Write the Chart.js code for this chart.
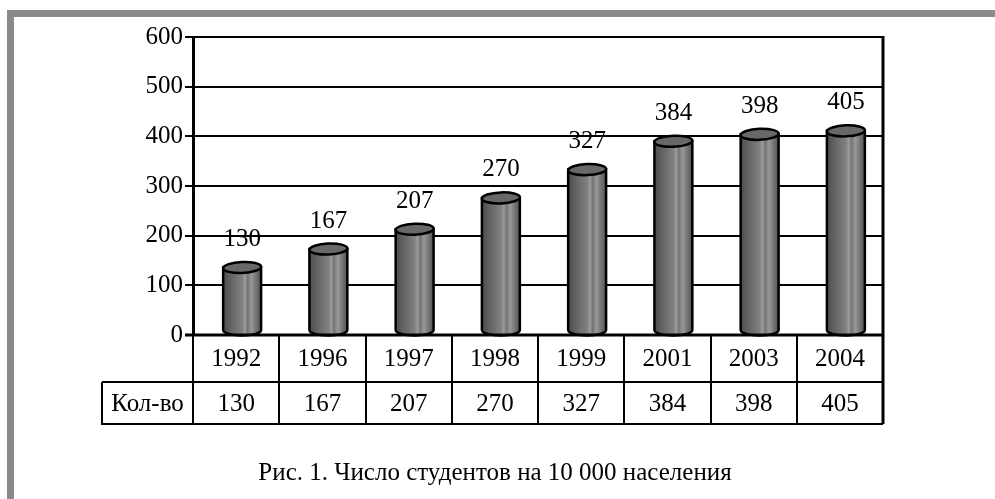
<!DOCTYPE html>
<html>
<head>
<meta charset="utf-8">
<script src="https://cdn.jsdelivr.net/npm/chart.js@4/dist/chart.umd.min.js"></script>
<style>
  html, body { margin: 0; padding: 0; background: #fff; }
  #wrap { position: relative; width: 995px; height: 499px; overflow: hidden; }
  #frameTop { position: absolute; left: 7px; right: 0; top: 10px; height: 7px; background: #8a8a8a; }
  #frameLeft { position: absolute; left: 7px; width: 7px; top: 10px; bottom: 0; background: #8a8a8a; }
  canvas { position: absolute; left: 0; top: 0; }
</style>
</head>
<body>
<div id="wrap">
  <div id="frameTop"></div>
  <div id="frameLeft"></div>
  <canvas id="chart" width="995" height="499"></canvas>
</div>
<script>
const years = ["1992", "1996", "1997", "1998", "1999", "2001", "2003", "2004"];
const students = [130, 167, 207, 270, 327, 384, 398, 405];
const rowLabel = "Кол-во";
const caption = "Рис. 1. Число студентов на 10 000 населения";

const FONT = "'Liberation Serif', 'Times New Roman', serif";

// cylinders, value labels, data table and caption
const cylinderPlugin = {
  id: "cylinders",
  afterDatasetsDraw(chart) {
    const ctx = chart.ctx;
    const area = chart.chartArea;
    const meta = chart.getDatasetMeta(0);
    ctx.save();
    meta.data.forEach((bar, i) => {
      const w = bar.width;
      const cx = bar.x + 6;
      const left = cx - w / 2;
      const right = cx + w / 2;
      const top = bar.y - 3;
      const base = bar.base - 4;
      const ry = 5.5;

      const grad = ctx.createLinearGradient(left, 0, right, 0);
      grad.addColorStop(0, "#4c4c4c");
      grad.addColorStop(0.25, "#686868");
      grad.addColorStop(0.5, "#808080");
      grad.addColorStop(0.58, "#9c9c9c");
      grad.addColorStop(0.64, "#747474");
      grad.addColorStop(0.75, "#989898");
      grad.addColorStop(0.82, "#828282");
      grad.addColorStop(1, "#515151");

      // body
      ctx.beginPath();
      ctx.moveTo(left, top);
      ctx.lineTo(left, base);
      ctx.ellipse(cx, base, w / 2, ry, 0, Math.PI, 0, true);
      ctx.lineTo(right, top);
      ctx.closePath();
      ctx.fillStyle = grad;
      ctx.fill();
      ctx.lineWidth = 2.5;
      ctx.strokeStyle = "#000";
      ctx.stroke();

      // top cap
      ctx.beginPath();
      ctx.ellipse(cx, top, w / 2, ry, -0.04, 0, Math.PI * 2);
      ctx.fillStyle = "#686868";
      ctx.fill();
      ctx.stroke();

      // value label
      ctx.fillStyle = "#000";
      ctx.font = "25px " + FONT;
      ctx.textAlign = "center";
      ctx.textBaseline = "middle";
      ctx.fillText(String(students[i]), cx, top - 28);
    });

    // right border
    ctx.strokeStyle = "#000";
    ctx.lineWidth = 3;
    ctx.beginPath();
    ctx.moveTo(area.right, area.top - 1);
    ctx.lineTo(area.right, area.bottom);
    ctx.stroke();

    // data table
    const xs = chart.scales.x;
    const colW = (area.right - area.left) / years.length;
    const row1Top = area.bottom;
    const row1Bot = area.bottom + 47;
    const row2Bot = row1Bot + 42;
    const labelLeft = 102;

    ctx.lineWidth = 2;
    ctx.beginPath();
    ctx.moveTo(area.left, row1Bot);
    ctx.lineTo(area.right, row1Bot);
    ctx.moveTo(labelLeft, row1Bot);
    ctx.lineTo(labelLeft, row2Bot);
    ctx.lineTo(area.right, row2Bot);
    for (let k = 0; k <= years.length; k++) {
      const x = Math.round(area.left + k * colW);
      ctx.moveTo(x, row1Top);
      ctx.lineTo(x, row2Bot);
    }
    ctx.moveTo(labelLeft, row1Bot);
    ctx.lineTo(area.left, row1Bot);
    ctx.stroke();

    ctx.lineWidth = 3;
    ctx.beginPath();
    ctx.moveTo(area.left - 8, area.bottom);
    ctx.lineTo(area.right + 1, area.bottom);
    ctx.moveTo(area.right, area.bottom);
    ctx.lineTo(area.right, row2Bot);
    ctx.stroke();

    ctx.fillStyle = "#000";
    ctx.font = "25px " + FONT;
    ctx.textAlign = "center";
    ctx.textBaseline = "middle";
    years.forEach((y, k) => {
      const x = xs.getPixelForValue(k);
      ctx.fillText(y, x, (row1Top + row1Bot) / 2 + 1);
      ctx.fillText(String(students[k]), x, (row1Bot + row2Bot) / 2 + 1);
    });
    ctx.fillText(rowLabel, (labelLeft + area.left) / 2, (row1Bot + row2Bot) / 2 + 1);

    // caption
    ctx.font = "25px " + FONT;
    ctx.fillText(caption, 495, 473);
    ctx.restore();
  }
};

new Chart(document.getElementById("chart"), {
  type: "bar",
  data: {
    labels: years,
    datasets: [{
      data: students,
      backgroundColor: "rgba(0,0,0,0)",
      borderWidth: 0,
      barPercentage: 0.44,
      categoryPercentage: 1
    }]
  },
  options: {
    responsive: false,
    animation: false,
    events: [],
    layout: { padding: { left: 0, top: 37, right: 112, bottom: 164 } },
    plugins: { legend: { display: false }, tooltip: { enabled: false }, title: { display: false } },
    scales: {
      x: { display: false },
      y: {
        min: 0,
        max: 600,
        afterFit(scale) { scale.width = 193; },
        ticks: { stepSize: 100, color: "#000", padding: 2, font: { family: FONT, size: 25 } },
        grid: { color: "#000", lineWidth: 2, tickLength: 8, drawTicks: true },
        border: { color: "#000", width: 3 }
      }
    }
  },
  plugins: [cylinderPlugin]
});
</script>
</body>
</html>
